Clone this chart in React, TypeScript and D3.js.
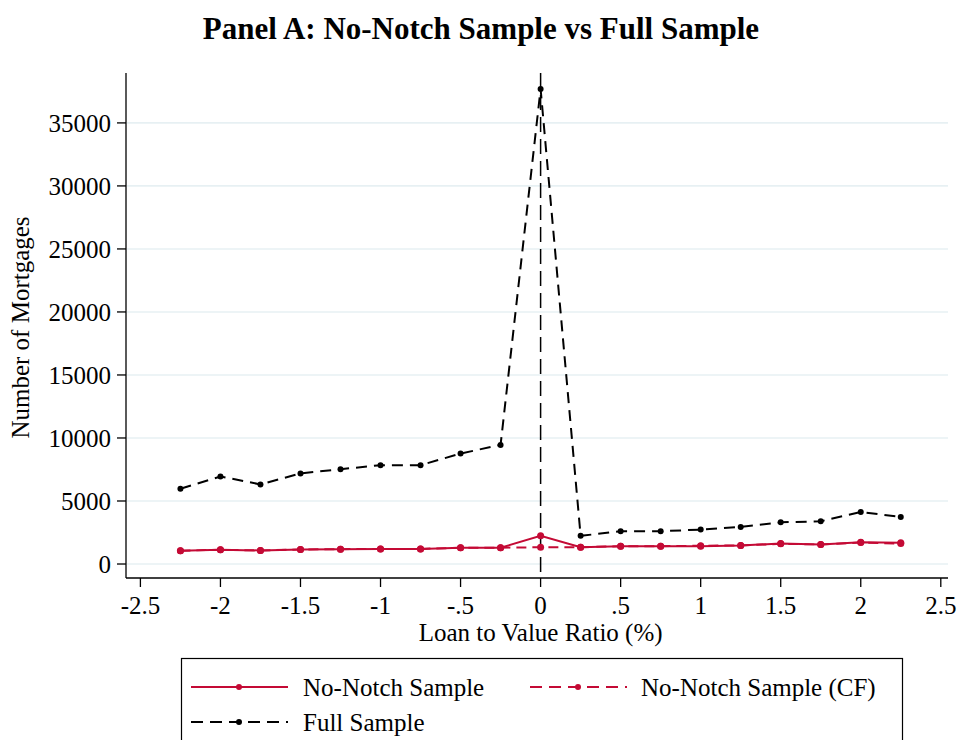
import React from 'react';
import * as d3 from 'd3';

// loan-to-value bins (percentage points from the notch)
const ltvBins = [-2.25, -2, -1.75, -1.5, -1.25, -1, -0.75, -0.5, -0.25, 0, 0.25, 0.5, 0.75, 1, 1.25, 1.5, 1.75, 2, 2.25];

const noNotch = [1050, 1130, 1075, 1150, 1180, 1200, 1200, 1290, 1290, 2235, 1335, 1415, 1415, 1400, 1470, 1625, 1550, 1730, 1680];
const noNotchCF = [1050, 1130, 1075, 1150, 1180, 1200, 1200, 1290, 1290, 1335, 1335, 1415, 1415, 1450, 1470, 1600, 1550, 1700, 1620];
const fullSample = [5970, 6945, 6315, 7185, 7525, 7840, 7840, 8765, 9450, 37700, 2235, 2600, 2600, 2730, 2945, 3310, 3390, 4130, 3735];

const yTicks = [0, 5000, 10000, 15000, 20000, 25000, 30000, 35000];
const xTicks = [-2.5, -2, -1.5, -1, -0.5, 0, 0.5, 1, 1.5, 2, 2.5];
const xTickLabels = ['-2.5', '-2', '-1.5', '-1', '-.5', '0', '.5', '1', '1.5', '2', '2.5'];

const RED = '#c40a35';
const GRID = '#e7f0f3';
const FONT = '"Liberation Serif", "DejaVu Serif", serif';

export default function App() {
  const W = 958;
  const H = 740;

  // plot region
  const left = 126, right = 948, top = 73, bottom = 578;

  const x = d3.scaleLinear().domain([-2.59, 2.545]).range([left, right]);
  const y = d3.scaleLinear().domain([-1110, 38960]).range([bottom, top]);

  const line = d3.line<number>()
    .x((d, i) => x(ltvBins[i]))
    .y(d => y(d));

  const series = [
    { name: 'No-Notch Sample', values: noNotch, color: RED, dash: null, r: 3.5 },
    { name: 'No-Notch Sample (CF)', values: noNotchCF, color: RED, dash: '10 6', r: 3.5 },
    { name: 'Full Sample', values: fullSample, color: '#000', dash: '11 7', r: 3 },
  ];

  return (
    <svg width={W} height={H} style={{ position: 'absolute', left: 0, top: 0, background: '#fff' }} fontFamily={FONT}>
      <rect x={0} y={0} width={W} height={H} fill="#fff" />

      {/* title */}
      <text x={481} y={39} textAnchor="middle" fontSize={31} fontWeight="bold">
        Panel A: No-Notch Sample vs Full Sample
      </text>

      {/* grid lines */}
      {yTicks.map(t => (
        <line key={'g' + t} x1={left + 1} x2={right} y1={y(t)} y2={y(t)} stroke={GRID} strokeWidth={1.6} />
      ))}

      {/* vertical reference line at the notch */}
      <line x1={x(0)} x2={x(0)} y1={top} y2={bottom} stroke="#000" strokeWidth={1.5} strokeDasharray="15 7" />

      {/* series */}
      {series.map(s => (
        <g key={s.name}>
          <path d={line(s.values) || ''} fill="none" stroke={s.color} strokeWidth={2}
            strokeDasharray={s.dash || undefined} />
          {s.values.map((v, i) => (
            <circle key={i} cx={x(ltvBins[i])} cy={y(v)} r={s.r} fill={s.color} />
          ))}
        </g>
      ))}

      {/* y axis */}
      <line x1={left} x2={left} y1={top} y2={bottom} stroke="#000" strokeWidth={1.3} />
      {yTicks.map(t => (
        <g key={'y' + t} transform={`translate(${left},${y(t)})`}>
          <line x1={-9} x2={0} stroke="#000" strokeWidth={1.3} />
          <text x={-15} dy="0.35em" textAnchor="end" fontSize={25}>{t}</text>
        </g>
      ))}
      <text transform={`translate(29,${(top + bottom) / 2 + 2}) rotate(-90)`} textAnchor="middle" fontSize={25}>
        Number of Mortgages
      </text>

      {/* x axis */}
      <line x1={left} x2={right} y1={bottom} y2={bottom} stroke="#000" strokeWidth={1.3} />
      {xTicks.map((t, i) => (
        <g key={'x' + t} transform={`translate(${x(t)},${bottom})`}>
          <line y1={0} y2={9} stroke="#000" strokeWidth={1.3} />
          <text y={36} textAnchor="middle" fontSize={25}>{xTickLabels[i]}</text>
        </g>
      ))}
      <text x={x(0)} y={641} textAnchor="middle" fontSize={25}>Loan to Value Ratio (%)</text>

      {/* legend */}
      <rect x={181.5} y={658.5} width={721} height={100} fill="#fff" stroke="#000" strokeWidth={1.2} />
      {series.map((s, i) => {
        const lx = i === 1 ? 530 : 191;
        const ly = i === 2 ? 722 : 687;
        const tx = i === 1 ? 641 : 303;
        return (
          <g key={'l' + s.name}>
            <line x1={lx} x2={lx + 97} y1={ly} y2={ly} stroke={s.color} strokeWidth={2}
              strokeDasharray={s.dash ? '12 7' : undefined} />
            <circle cx={lx + 48} cy={ly} r={3} fill={s.color} />
            <text x={tx} y={ly} dy="0.35em" fontSize={25}>{s.name}</text>
          </g>
        );
      })}
    </svg>
  );
}
